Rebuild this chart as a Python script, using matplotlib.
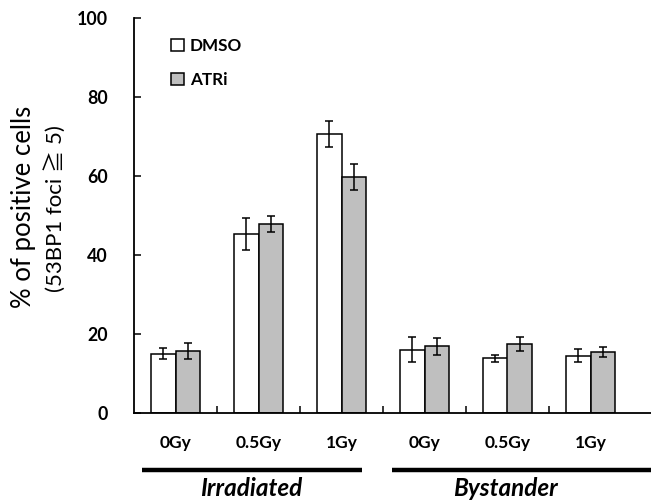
import numpy as np
import matplotlib
matplotlib.use("Agg")
import matplotlib.pyplot as plt

# values
doses = ["0Gy", "0.5Gy", "1Gy", "0Gy", "0.5Gy", "1Gy"]
dmso = [15.0, 45.3, 70.6, 16.0, 13.9, 14.5]
dmso_err = [1.4, 4.0, 3.2, 3.2, 0.9, 1.7]
atri = [15.6, 47.8, 59.7, 16.9, 17.5, 15.4]
atri_err = [2.0, 2.0, 3.3, 2.1, 1.7, 1.2]
groups = ["Irradiated", "Bystander"]

plt.rcParams["font.family"] = ["Lato", "Noto Sans CJK JP", "DejaVu Sans"]

W, H = 651, 504
fig = plt.figure(figsize=(W / 100, H / 100), dpi=100)
# axes: left spine at x=134px, y=0 at 413px, y=100 at 18px, x axis runs past right edge
ax = fig.add_axes([134 / W, (H - 413) / H, (656 - 134) / W, (413 - 18) / H])

x = np.arange(len(doses))
bw = 0.29
err_kw = dict(elinewidth=1.1, capsize=2.6, capthick=1.1, ecolor="black")
b1 = ax.bar(x - bw / 2, dmso, bw, yerr=dmso_err, color="white", edgecolor="black",
            linewidth=1.1, label="DMSO", error_kw=err_kw, zorder=2)
b2 = ax.bar(x + bw / 2, atri, bw, yerr=atri_err, color="#bfbfbf", edgecolor="black",
            linewidth=1.1, label="ATRi", error_kw=err_kw, zorder=2)

ax.set_xlim(-0.5, -0.5 + (656 - 134) / 83)
ax.set_ylim(0, 100)
ax.set_yticks([0, 20, 40, 60, 80, 100])
ax.set_xticks(x)
ax.set_xticklabels(doses, fontweight="bold", fontsize=12.5)
ax.set_xticks(np.arange(len(doses) - 1) + 0.5, minor=True)
ax.tick_params(axis="x", which="major", length=0, pad=16)
ax.tick_params(axis="x", which="minor", direction="in", length=5, width=1.1)
ax.tick_params(axis="y", direction="in", length=5, width=1.1, pad=19, labelsize=12.8)
for lab in ax.get_yticklabels():
    lab.set_fontweight("bold")

for s in ["top", "right"]:
    ax.spines[s].set_visible(False)
for s in ["left", "bottom"]:
    ax.spines[s].set_linewidth(1.3)

# y label, two lines with different sizes
fig.text(24 / W, 1 - 207 / H, "% of positive cells", rotation=90, ha="center",
         va="center", fontsize=18.5)
fig.text(55 / W, 1 - 209 / H, "(53BP1 foci \u2267 5)", rotation=90, ha="center",
         va="center", fontsize=16)

# group brackets and labels
trans = ax.get_xaxis_transform()
line_y = -(470 - 413) / (413 - 18)
ax.plot([-0.40, 2.25], [line_y, line_y], color="black", lw=3.2, transform=trans,
        clip_on=False, solid_capstyle="butt")
ax.plot([2.61, 5.9], [line_y, line_y], color="black", lw=3.2, transform=trans,
        clip_on=False, solid_capstyle="butt")
text_y = -(477 - 413) / (413 - 18)
ax.text(0.916, text_y, groups[0], transform=trans, ha="center", va="top",
        fontsize=17.5, fontweight="bold", fontstyle="italic")
ax.text(3.97, text_y, groups[1], transform=trans, ha="center", va="top",
        fontsize=17.5, fontweight="bold", fontstyle="italic")

leg = ax.legend(handles=[b1, b2], loc="upper left", bbox_to_anchor=(0.045, 0.985),
                frameon=False, handlelength=0.75, handleheight=0.7,
                handletextpad=0.35, labelspacing=1.05, borderpad=0.3,
                prop={"weight": "bold", "size": 12.3})

fig.savefig("out.png", dpi=100)
